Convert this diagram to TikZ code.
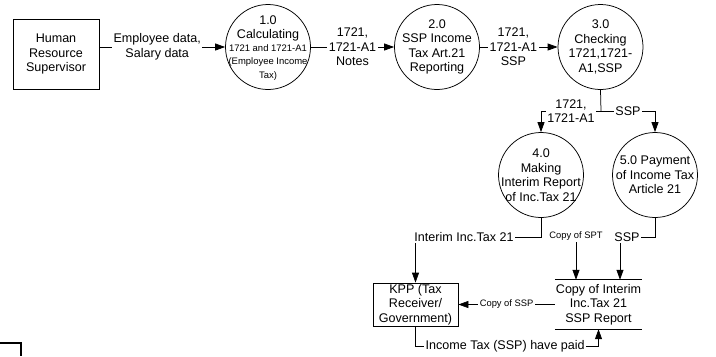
\documentclass[tikz,border=0pt]{standalone}
\usepackage{fontspec}
\setmainfont{Liberation Sans}
\usetikzlibrary{arrows.meta}
\tikzset{
  mainf/.style={font=\fontsize{12.6}{14.6}\selectfont},
  proc/.style={draw, circle, minimum size=85bp, inner sep=0pt, line width=0.75bp},
  ptext/.style={align=center, inner sep=0pt, mainf},
  ent/.style={draw, rectangle, line width=0.75bp, align=center, inner sep=0pt, mainf},
  lab/.style={fill=white, align=center, inner sep=1.5bp, mainf},
  slab/.style={fill=white, inner sep=1.5bp, font=\fontsize{9.4}{11}\selectfont},
  conn/.style={line width=0.75bp},
  arr/.style={line width=0.75bp, -{Triangle[length=10bp,width=7bp]}}
}
\begin{document}
\begin{tikzpicture}[x=1bp, y=-1bp]
\useasboundingbox (0,0) rectangle (716,356);

% entities
\node[ent, minimum width=86bp, minimum height=70bp] (hr) at (56,54) {Human\\Resource\\Supervisor};
\node[ent, minimum width=85bp, minimum height=43bp] (kpp) at (415.5,304.5) {KPP (Tax\\Receiver/\\Government)};

% processes
\node[proc] (p1) at (268,47) {};
\node[ptext, font=\fontsize{12.6}{13.4}\selectfont] at (268,48) {1.0\\Calculating\\{\fontsize{9.5}{11}\selectfont 1721 and 1721-A1}\\{\fontsize{9.5}{11}\selectfont (Employee Income}\\{\fontsize{9.5}{11}\selectfont Tax)}};
\node[proc] (p2) at (437,47) {};
\node[ptext] at (p2) {2.0\\SSP Income\\Tax Art.21\\Reporting};
\node[proc] (p3) at (600.5,47) {};
\node[ptext] at (p3) {3.0\\Checking\\1721,1721-\\A1,SSP};
\node[proc] (p4) at (541,175) {};
\node[ptext] at (p4) {4.0\\Making\\Interim Report\\of Inc.Tax 21};
\node[proc] (p5) at (655,175) {};
\node[ptext] at (p5) {5.0 Payment\\of Income Tax\\Article 21};

% data store
\node[minimum width=87bp, minimum height=49bp, inner sep=0pt, align=center, mainf] (store) at (598.5,304.5) {Copy of Interim\\Inc.Tax 21\\SSP Report};
\draw[conn] (store.north west) -- (store.north east);
\draw[conn] (store.south west) -- (store.south east);

% top flows
\draw[arr] (hr.east |- p1.west) -- node[lab, pos=0.46]{Employee data,\\Salary data} (p1.west);
\draw[arr] (p1.east) -- node[lab]{1721,\\1721-A1\\Notes} (p2.west);
\draw[arr] (p2.east) -- node[lab, pos=0.43]{1721,\\1721-A1\\SSP} (p3.west);

% split from 3.0
\coordinate (j) at (601,111);
\draw[conn] (p3.south) -- (j);
\draw[arr] (j) -- node[lab]{1721,\\1721-A1} (j -| p4.north) -- (p4.north);
\draw[arr] (j) -- node[lab]{SSP} (j -| p5.north) -- (p5.north);

% from 4.0 to KPP
\coordinate (c4) at (415.5,237);
\draw[arr] (p4.south) |- (c4) -- (kpp.north);
\node[lab] (l4) at (464,237) {Interim Inc.Tax 21};

% copy of SPT
\node[slab] (spt) at (576,236) {Copy of SPT};
\draw[arr] (spt.south) -- (spt.south |- store.north);

% from 5.0 to store
\coordinate (c5) at (620,237);
\draw[arr] (p5.south) |- (c5) -- (c5 |- store.north);
\node[lab] (l5) at (627,237) {SSP};

% store to KPP
\draw[arr] (store.west) -- node[slab]{Copy of SSP} (kpp.east);

% KPP to store
\coordinate (b1) at (415.5,346);
\coordinate (b2) at (598.5,346);
\draw[arr] (kpp.south) -- (b1) -- node[lab, pos=0.49]{Income Tax (SSP) have paid} (b2) -- (store.south);

% stray fragment bottom left
\draw[line width=1.5bp] (0,343) -- (21,343) -- (21,356);
\end{tikzpicture}
\end{document}
